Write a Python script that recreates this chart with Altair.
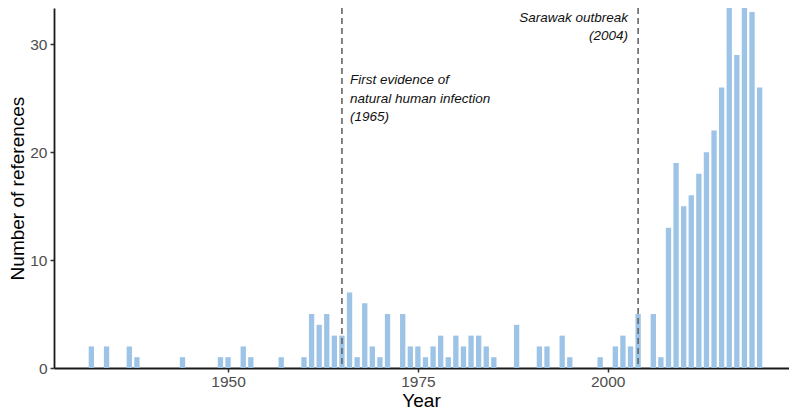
import altair as alt
import pandas as pd

years = [1932, 1934, 1937, 1938, 1944, 1949, 1950, 1952, 1953, 1957,
         1960, 1961, 1962, 1963, 1964, 1965, 1966, 1967, 1968, 1969,
         1970, 1971, 1973, 1974, 1975, 1976, 1977, 1978, 1979, 1980,
         1981, 1982, 1983, 1984, 1985, 1988, 1991, 1992, 1994, 1995,
         1999, 2001, 2002, 2003, 2004, 2006, 2007, 2008, 2009, 2010,
         2011, 2012, 2013, 2014, 2015, 2016, 2017, 2018, 2019, 2020]
counts = [2, 2, 2, 1, 1, 1, 1, 2, 1, 1,
          1, 5, 4, 5, 3, 3, 7, 1, 6, 2,
          1, 5, 5, 2, 2, 1, 2, 3, 1, 3,
          2, 3, 3, 2, 1, 4, 2, 2, 3, 1,
          1, 2, 3, 2, 5, 5, 1, 13, 19, 15,
          16, 18, 20, 22, 26, 35, 29, 35, 33, 26]

event_years = [1965, 2004]

ann_text = ["First evidence of", "natural human infection", "(1965)",
            "Sarawak outbreak", "(2004)"]
ann_x = [1965, 1965, 1965, 2004, 2004]
ann_y = [26.7, 24.94, 23.27, 32.45, 30.75]
ann_side = ["left", "left", "left", "right", "right"]

FONT = "Liberation Sans"
XDOM = [1927.08, 2023.87]
YDOM = [0, 33.36]

df = pd.DataFrame({"year": years, "n": counts})
df["x0"] = df["year"] - 0.35
df["x1"] = df["year"] + 0.35
ev = pd.DataFrame({"year": event_years})
ann = pd.DataFrame({"t": ann_text, "x": ann_x, "y": ann_y, "side": ann_side})

xs = alt.Scale(domain=XDOM, nice=False, zero=False)
ys = alt.Scale(domain=YDOM, nice=False)

bars = alt.Chart(df).mark_bar(color="#9DC3E6", clip=True).encode(
    x=alt.X("x0:Q", scale=xs,
            axis=alt.Axis(values=[1950, 1975, 2000], format="d", title="Year",
                          titleX=367, titleY=38, titleBaseline="alphabetic",
                          labelPadding=2)),
    x2="x1:Q",
    y=alt.Y("n:Q", scale=ys,
            axis=alt.Axis(values=[0, 10, 20, 30], title="Number of references",
                          titleX=-31, titleY=180, titleBaseline="alphabetic",
                          labelPadding=3)),
    y2=alt.datum(0),
)

rules = alt.Chart(ev).mark_rule(color="#666666", strokeWidth=1.6,
                                strokeDash=[6, 4]).encode(
    x=alt.X("year:Q", scale=xs),
)

left_txt = alt.Chart(ann).transform_filter(alt.datum.side == "left").mark_text(
    align="left", baseline="middle", dx=8, font=FONT, fontStyle="italic",
    fontSize=13.5, color="#111111").encode(
    x=alt.X("x:Q", scale=xs), y=alt.Y("y:Q", scale=ys), text="t:N")

right_txt = alt.Chart(ann).transform_filter(alt.datum.side == "right").mark_text(
    align="right", baseline="middle", dx=-10, font=FONT, fontStyle="italic",
    fontSize=13.5, color="#111111").encode(
    x=alt.X("x:Q", scale=xs), y=alt.Y("y:Q", scale=ys), text="t:N")

chart = alt.layer(bars, rules, left_txt, right_txt).properties(
    width=735, height=360,
    autosize=alt.AutoSizeParams(type="none"),
    padding={"left": 46, "top": 0, "right": 0, "bottom": 42},
).configure_view(stroke=None).configure_axis(
    grid=False, domainColor="#1a1a1a", domainWidth=1.8,
    tickColor="#333333", tickWidth=1.5, tickSize=4,
    labelColor="#4D4D4D", labelFontSize=15.5, labelFont=FONT,
    titleFont=FONT, titleFontSize=19, titleColor="#000000",
    titleFontWeight="normal",
)

chart.save("out.html", embed_options={"renderer": "svg", "actions": False})
